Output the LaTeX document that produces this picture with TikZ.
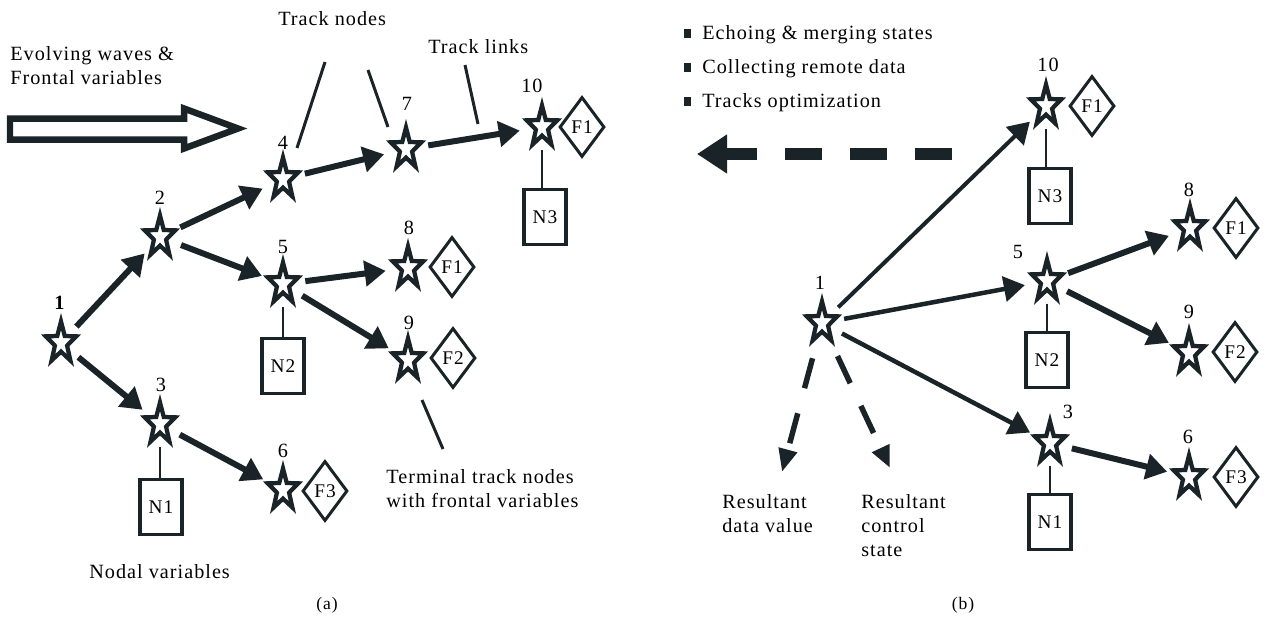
\documentclass[tikz,border=0pt]{standalone}
\usepackage{fontspec}
\setmainfont{Liberation Serif}[LetterSpace=5]
\usetikzlibrary{arrows.meta,shapes.geometric}
\definecolor{ink}{RGB}{26,36,40}
\tikzset{
  hub/.style={circle,inner sep=0,outer sep=0,minimum size=0.9cm},
  trk/.style={star,star points=5,star point ratio=2.5,draw=ink,line width=0.085cm,fill=white,inner sep=0,minimum size=0.64cm,yscale=1.35,transform shape},
  num/.style={font=\fontsize{11.5}{13}\selectfont,inner sep=0},
  front/.style={diamond,draw=ink,line width=0.06cm,inner sep=0,minimum width=0.9cm,minimum height=1.2cm,font=\fontsize{11}{13}\selectfont},
  nodal/.style={rectangle,draw=ink,line width=0.075cm,inner sep=0,minimum width=0.84cm,minimum height=1.1cm,font=\fontsize{11}{13}\selectfont},
  link/.style={ink,line width=0.12cm,-{Triangle[length=0.42cm,width=0.5cm]}},
  linkb/.style={link,line width=0.09cm},
  tie/.style={ink,line width=0.055cm},
  pointer/.style={ink,line width=0.06cm},
  txt/.style={font=\fontsize{11.5}{13.6}\selectfont,inner sep=0,align=left}
}
\begin{document}
\begin{tikzpicture}[x=0.02cm,y=-0.02cm]
  \useasboundingbox (0,0) rectangle (1267,626);
  % (a) track tree
  \node[hub] (a1) at (61,343) {};
  \node[hub] (a2) at (160,237) {};
  \node[hub] (a3) at (160,424) {};
  \node[hub] (a4) at (283,179) {};
  \node[hub] (a5) at (283,284) {};
  \node[hub] (a6) at (283,490) {};
  \node[hub] (a7) at (406,149) {};
  \node[hub] (a8) at (408,268) {};
  \node[hub] (a9) at (408,360) {};
  \node[hub] (a10) at (542,127) {};
  % (b) track tree
  \node[hub] (b1) at (822,323) {};
  \node[hub] (b10) at (1046,106) {};
  \node[hub] (b5) at (1047,281) {};
  \node[hub] (b3) at (1050,443) {};
  \node[hub] (b8) at (1190,228) {};
  \node[hub] (b9) at (1189,353) {};
  \node[hub] (b6) at (1189,477) {};
  \foreach \n in {a1,a2,a3,a4,a5,a6,a7,a8,a9,a10,b1,b3,b5,b6,b8,b9,b10}
    \node[trk] (\n s) at (\n) {};
  % numbers
  \node[num] (la1) at (60,303) {\textbf{1}};
  \node[num] (la2) at (160,198) {2};
  \node[num] (la3) at (161,385) {3};
  \node[num] (la4) at (283,143) {4};
  \node[num] (la5) at (283,247) {5};
  \node[num] (la6) at (283,451) {6};
  \node[num] (la7) at (407,104) {7};
  \node[num] (la8) at (409,228) {8};
  \node[num] (la9) at (409,323) {9};
  \node[num] (la10) at (532,86) {10};
  \node[num] (lb1) at (820,283) {1};
  \node[num] (lb10) at (1048,65) {10};
  \node[num] (lb5) at (1018,252) {5};
  \node[num] (lb3) at (1068,412) {3};
  \node[num] (lb8) at (1189,190) {8};
  \node[num] (lb9) at (1189,312) {9};
  \node[num] (lb6) at (1188,437) {6};
  % frontal variables and nodal variables
  \node[front] (fa10) at (582,127) {F1};
  \node[front] (fa8) at (452,267) {F1};
  \node[front] (fa9) at (453,358) {F2};
  \node[front] (fa6) at (325,491) {F3};
  \node[front] (fb10) at (1092,106) {F1};
  \node[front] (fb8) at (1236,228) {F1};
  \node[front] (fb9) at (1235,352) {F2};
  \node[front] (fb6) at (1236,477) {F3};
  \node[nodal] (na3) at (161,507) {N1};
  \node[nodal] (na2) at (283,366) {N2};
  \node[nodal] (na10) at (545,217) {N3};
  \node[nodal] (nb10) at (1050,196) {N3};
  \node[nodal] (nb5) at (1047,360) {N2};
  \node[nodal] (nb3) at (1050,522) {N1};
  \draw[tie] (a3) -- (a3 |- na3.north);
  \draw[tie] (a5) -- (a5 |- na2.north);
  \draw[tie] (a10) -- (a10 |- na10.north);
  \draw[tie] (b10) -- (b10 |- nb10.north);
  \draw[tie] (b5) -- (b5 |- nb5.north);
  \draw[tie] (b3) -- (b3 |- nb3.north);
  % track links
  \draw[link] (a1) -- (a2);
  \draw[link] (a1) -- (a3);
  \draw[link] (a2) -- (a4);
  \draw[link] (a2) -- (a5);
  \draw[link] (a4) -- (a7);
  \draw[link] (a7) -- (a10);
  \draw[link] (a5) -- (a8);
  \draw[link] (a5) -- (a9);
  \draw[link] (a3) -- (a6);
  \draw[linkb,line width=0.08cm] (b1) -- (b10);
  \draw[linkb] (b1) -- (b5);
  \draw[linkb] (b1) -- (b3);
  \draw[link] (b5) -- (b8);
  \draw[link] (b5) -- (b9);
  \draw[link] (b3) -- (b6);
  % resultants
  \coordinate (rdv) at (782,472);
  \coordinate (rcs) at (890,468);
  \draw[ink,line width=0.11cm,dash pattern=on 0.62cm off 0.52cm,shorten <=0.28cm,-{Triangle[length=0.46cm,width=0.36cm]}] (b1) -- (rdv);
  \draw[ink,line width=0.11cm,dash pattern=on 0.6cm off 0.5cm,shorten <=0.28cm,-{Triangle[length=0.44cm,width=0.36cm]}] (b1) -- (rcs);
  % big arrows
  \draw[ink,line width=0.13cm,line join=miter] (10,118.5) -- (184,118.5) -- (184,108.5) -- (238,128.5) -- (184,148.5) -- (184,139.5) -- (10,139.5) -- cycle;
  \coordinate (dst) at (952,154);
  \coordinate (den) at (697,154);
  \draw[ink,line width=0.24cm,dash pattern=on 0.74cm off 0.56cm,-{Triangle[length=0.6cm,width=0.74cm]}] (dst) -- (den);
  % pointers
  \coordinate (pn1) at (325,62); \coordinate (qn1) at (297,148);
  \coordinate (pn2) at (368,70); \coordinate (qn2) at (388,127);
  \coordinate (pl) at (465,65); \coordinate (ql) at (478,124);
  \coordinate (pt) at (443,449); \coordinate (qt) at (422,400);
  \draw[pointer] (pn1) -- (qn1);
  \draw[pointer] (pn2) -- (qn2);
  \draw[pointer] (pl) -- (ql);
  \draw[pointer] (pt) -- (qt);
  % texts
  \node[txt,anchor=north west] (waves) at (10,46) {Evolving waves \&\\Frontal variables};
  \node[txt,anchor=base west] (tnodes) at (278,25) {Track nodes};
  \node[txt,anchor=base west] (tlinks) at (428,53) {Track links};
  \node[txt,anchor=base west] (nodalv) at (89,578) {Nodal variables};
  \node[txt,anchor=north west] (termv) at (386,469) {Terminal track nodes\\with frontal variables};
  \node[txt,anchor=north west] (rdata) at (722,494) {Resultant\\data value};
  \node[txt,anchor=north west] (rctrl) at (861,494) {Resultant\\control\\state};
  \foreach \i/\y/\t in {1/39/Echoing \& merging states,2/73/Collecting remote data,3/107/Tracks optimization}{
    \node[fill=ink,inner sep=0,minimum width=0.14cm,minimum height=0.18cm] (bul\i) at (687,\y-6) {};
    \node[txt,anchor=base west] (item\i) at (702,\y) {\t};
  }
  \node[txt,font=\fontsize{10}{12}\selectfont] (capa) at (327,605) {(a)};
  \node[txt,font=\fontsize{10}{12}\selectfont] (capb) at (963,605) {(b)};
\end{tikzpicture}
\end{document}
